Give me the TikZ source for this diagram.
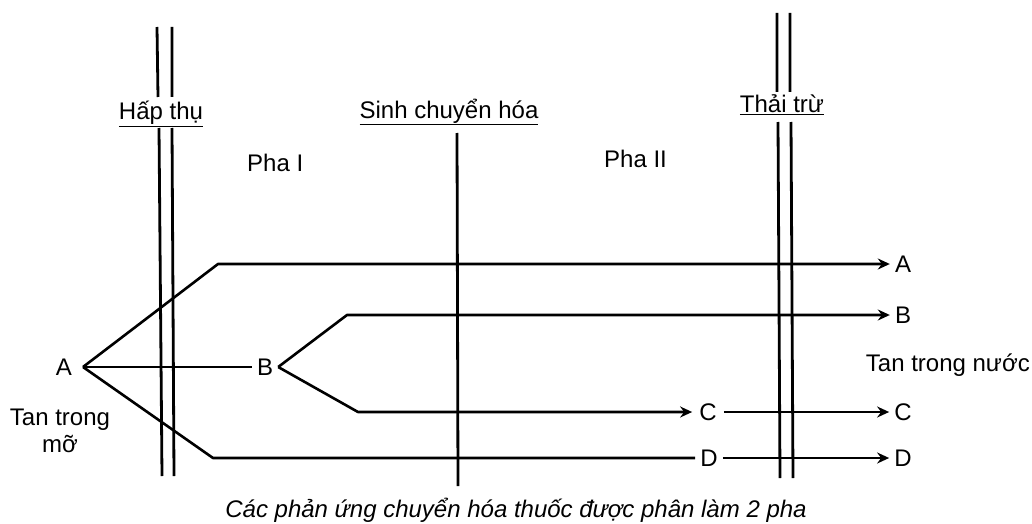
\documentclass[tikz,border=0pt]{standalone}
\usepackage{fontspec}
\setmainfont{Liberation Sans}
\usetikzlibrary{arrows.meta}
\begin{document}
\begin{tikzpicture}[x=1pt,y=-1pt,
  txt/.style={font=\fontsize{24}{27}\selectfont, inner sep=0pt},
  lbl/.style={txt, inner xsep=5pt, inner ysep=2pt},
  wire/.style={line width=2.6pt, line join=round},
  flow/.style={wire, -{Stealth[length=12pt,width=11pt,inset=4pt]}},
  wall/.style={line width=2.8pt}]
\useasboundingbox (0,0) rectangle (1032,524);

% phase boundaries and their titles
\node[txt, anchor=base] (hap) at (161,120) {\underline{Hấp thụ}};
\node[txt, anchor=base] (sinh) at (449,118) {\underline{Sinh chuyển hóa}};
\node[txt, anchor=base] (thai) at (782,113) {\underline{Thải trừ}};

\draw[wall] (157,27) -- (158,97)  (159,128) -- (162,476);
\draw[wall] (172,27) -- (172,97)  (172,128) -- (174,476);
\draw[wall] (457,133) -- (458,486);
\draw[wall] (777,13) -- (777,92)  (778,122) -- (780,478);
\draw[wall] (790,13) -- (790,92)  (791,122) -- (793,478);

\node[txt, anchor=base west] (pha1) at (247,171) {Pha I};
\node[txt, anchor=base west] (pha2) at (604,167) {Pha II};

% species
\node[lbl, anchor=east, inner xsep=11pt] (A0) at (83,367) {A};
\node[lbl] (Bm) at (265,367) {B};
\node[lbl, inner xsep=7pt] (Cm) at (708,412) {C};
\node[lbl] (Dm) at (709,458) {D};
\node[lbl] (A1) at (903,264) {A};
\node[lbl] (B1) at (903,315) {B};
\node[lbl] (C1) at (903,412) {C};
\node[lbl] (D1) at (903,458) {D};

\node[txt, align=center] (lipo) at (60,431) {Tan trong\\mỡ};
\node[txt, anchor=base east] (hydro) at (1030,371) {Tan trong nước};

% bend points of the routes
\coordinate (ka) at (218,264);
\coordinate (kb) at (347,315);
\coordinate (kc) at (358,412);
\coordinate (kd) at (213,458);

% routes
\draw[flow] (A0.east) -- (ka) -- (A1);
\draw[wire] (A0.east) -- (Bm);
\draw[flow] (Bm.east) -- (kb) -- (B1);
\draw[flow] (Bm.east) -- (kc) -- (Cm);
\draw[flow] (Cm) -- (C1);
\draw[wire] (A0.east) -- (kd) -- (Dm);
\draw[flow] (Dm) -- (D1);

\node[txt, anchor=base, font=\fontsize{24}{27}\selectfont\itshape] (cap) at (516,517)
  {Các phản ứng chuyển hóa thuốc được phân làm 2 pha};
\end{tikzpicture}
\end{document}
